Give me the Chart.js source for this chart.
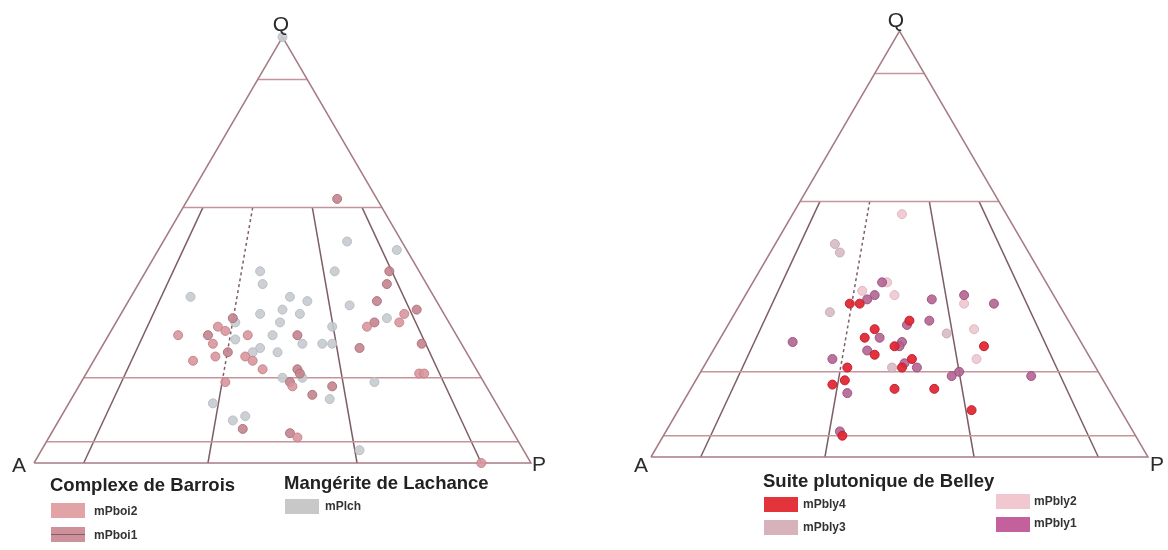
<!DOCTYPE html>
<html><head><meta charset="utf-8">
<script src="https://cdn.jsdelivr.net/npm/chart.js@4.4.1/dist/chart.umd.min.js"></script>
<style>
body{margin:0;background:#fff;width:1168px;height:550px;position:relative;overflow:hidden;font-family:"Liberation Sans",Arial,sans-serif;}
canvas{position:absolute;top:0;}
.lbl{position:absolute;font-size:21px;color:#2b2b2b;transform:translate(-50%,-50%);line-height:1;}
.ttl{position:absolute;font-weight:bold;font-size:18.5px;color:#222;line-height:1;transform:translateY(-50%);white-space:nowrap;}
.sw{position:absolute;width:34px;height:15px;}
.it{position:absolute;font-weight:bold;font-size:12px;color:#333;transform:translateY(-50%);line-height:1;white-space:nowrap;}
</style></head>
<body>
<canvas id="cL" width="584" height="550" style="left:0"></canvas>
<canvas id="cR" width="584" height="550" style="left:584px"></canvas>

<div class="lbl" style="left:281px;top:23px">Q</div>
<div class="lbl" style="left:19px;top:464px">A</div>
<div class="lbl" style="left:539px;top:463px">P</div>
<div class="lbl" style="left:896px;top:19px">Q</div>
<div class="lbl" style="left:641px;top:464px">A</div>
<div class="lbl" style="left:1157px;top:463px">P</div>

<div class="ttl" style="left:50px;top:485px">Complexe de Barrois</div>
<div class="sw" style="left:51px;top:503px;background:#e2a3a7"></div>
<div class="it" style="left:94px;top:511px">mPboi2</div>
<div class="sw" style="left:51px;top:527px;background:#cc919b"><div style="position:absolute;left:0;right:0;top:7px;height:1px;background:#8a5a66"></div></div>
<div class="it" style="left:94px;top:535px">mPboi1</div>
<div class="ttl" style="left:284px;top:483px">Mangérite de Lachance</div>
<div class="sw" style="left:285px;top:499px;background:#c8c8c8"></div>
<div class="it" style="left:325px;top:506px">mPlch</div>

<div class="ttl" style="left:763px;top:481px">Suite plutonique de Belley</div>
<div class="sw" style="left:764px;top:497px;background:#e2343a"></div>
<div class="it" style="left:803px;top:504px">mPbly4</div>
<div class="sw" style="left:764px;top:520px;background:#d8b2ba"></div>
<div class="it" style="left:803px;top:527px">mPbly3</div>
<div class="sw" style="left:996px;top:494px;background:#f2c8d0"></div>
<div class="it" style="left:1034px;top:501px">mPbly2</div>
<div class="sw" style="left:996px;top:517px;background:#c4609c"></div>
<div class="it" style="left:1034px;top:523px">mPbly1</div>

<script>
// ---- data: Q % and P % (A % = 100 - Q - P) ----
const boi2Q = [35,33,32,32,31,30,30,28,25,25,24,24,22,18,19,21,21,6,0];
const boi2P = [57,57,51,21,23,14,28,22,24,30,32,20,35,43,29,67,68,50,90];
const boi1Q = [62,45,42,38,36,34,33,30,30,28,26,27,22,21,19,18,16,8,7];
const boi1P = [30,49,50,50,59,23,52,20,38,64,26,52,42,43,42,51,48,38,48];
const lchQ = [52,50,45,45,42,39,39,38,37,36,33,35,35,33,34,32,30,28,29,28,28,27,26,26,20,20,19,15,14,10,11,3,100];
const lchP = [37,48,38,23,25,12,32,36,45,32,33,28,36,24,54,44,33,40,26,44,46,32,31,36,40,44,59,52,29,35,37,64,0];

const bly4Q = [36,36,32,30,28,26,24,26,21,21,23,18,17,16,16,11,5];
const bly4P = [22,24,36,30,29,36,33,54,29,40,41,30,28,41,49,59,36];
const bly3Q = [50,48,34,29,21];
const bly3P = [12,14,19,45,38];
const bly2Q = [57,41,39,38,36,30,23];
const bly2P = [22,27,23,30,45,50,54];
const bly1Q = [41,38,37,37,38,36,31,32,28,27,26,25,27,23,22,21,19,20,19,15,6];
const bly1P = [26,26,25,38,44,51,36,40,32,37,37,31,15,25,40,43,51,52,67,32,35];

// Streckeisen QAP field boundaries
const qLines = [90, 60, 20, 5];
const rLines = [10, 35, 65, 90];

// ternary (Q,P) -> plane (x = P + Q/2, y = Q)
function tern(q, p) { return { x: p + q / 2, y: q }; }
function pts(Q, P) { return Q.map((q, i) => tern(q, P[i])); }

function lineDs(qp, color, dash) {
  return { data: qp.map(a => tern(a[0], a[1])), showLine: true, borderColor: color,
    borderWidth: 1.5, pointRadius: 0, borderDash: dash || [], order: 10, clip: false, fill: false };
}
function frame() {
  const ds = [];
  const edge = '#a67c84', horiz = '#c8949b', slant = '#7e5e66';
  ds.push(lineDs([[0,0],[0,100],[100,0],[0,0]], edge));
  qLines.forEach(q => ds.push(lineDs([[q,0],[q,100-q]], horiz)));
  rLines.forEach(r => {
    const at = q => [q, (100 - q) * r / 100];
    if (r === 35) {
      ds.push(lineDs([at(60), at(20)], slant, [3, 3]));
      ds.push(lineDs([at(20), at(0)], slant));
    } else {
      ds.push(lineDs([at(60), at(0)], slant));
    }
  });
  return ds;
}
function ptDs(Q, P, fill, stroke) {
  return { data: pts(Q, P), backgroundColor: fill, borderColor: stroke, borderWidth: 1,
    pointRadius: 4.5, showLine: false, order: 0, clip: false };
}
function makeChart(id, canvasLeft, ax, base, pointSets) {
  const W = 4.97, H = 4.26; // pixels per percent
  new Chart(document.getElementById(id), {
    type: 'scatter',
    data: { datasets: pointSets.concat(frame()) },
    options: {
      responsive: false, animation: false, devicePixelRatio: 1, events: [],
      layout: { padding: 0, autoPadding: false },
      plugins: { legend: { display: false }, tooltip: { enabled: false } },
      scales: {
        x: { type: 'linear', display: false, min: (canvasLeft - ax) / W, max: (canvasLeft + 584 - ax) / W },
        y: { type: 'linear', display: false, min: (base - 550) / H, max: base / H }
      }
    }
  });
}
makeChart('cL', 0, 34, 463, [
  ptDs(boi2Q, boi2P, 'rgba(216,150,156,0.9)', 'rgba(196,128,136,0.9)'),
  ptDs(boi1Q, boi1P, 'rgba(196,132,142,0.9)', 'rgba(170,110,120,0.9)'),
  ptDs(lchQ, lchP, 'rgba(198,202,206,0.9)', 'rgba(182,188,194,0.9)')
]);
makeChart('cR', 584, 651, 457, [
  ptDs(bly4Q, bly4P, 'rgba(224,40,52,0.95)', 'rgba(190,30,44,0.95)'),
  ptDs(bly1Q, bly1P, 'rgba(180,100,146,0.9)', 'rgba(150,80,120,0.9)'),
  ptDs(bly3Q, bly3P, 'rgba(214,186,196,0.9)', 'rgba(196,168,178,0.9)'),
  ptDs(bly2Q, bly2P, 'rgba(238,200,208,0.9)', 'rgba(222,180,190,0.9)')
]);
</script>
</body></html>
